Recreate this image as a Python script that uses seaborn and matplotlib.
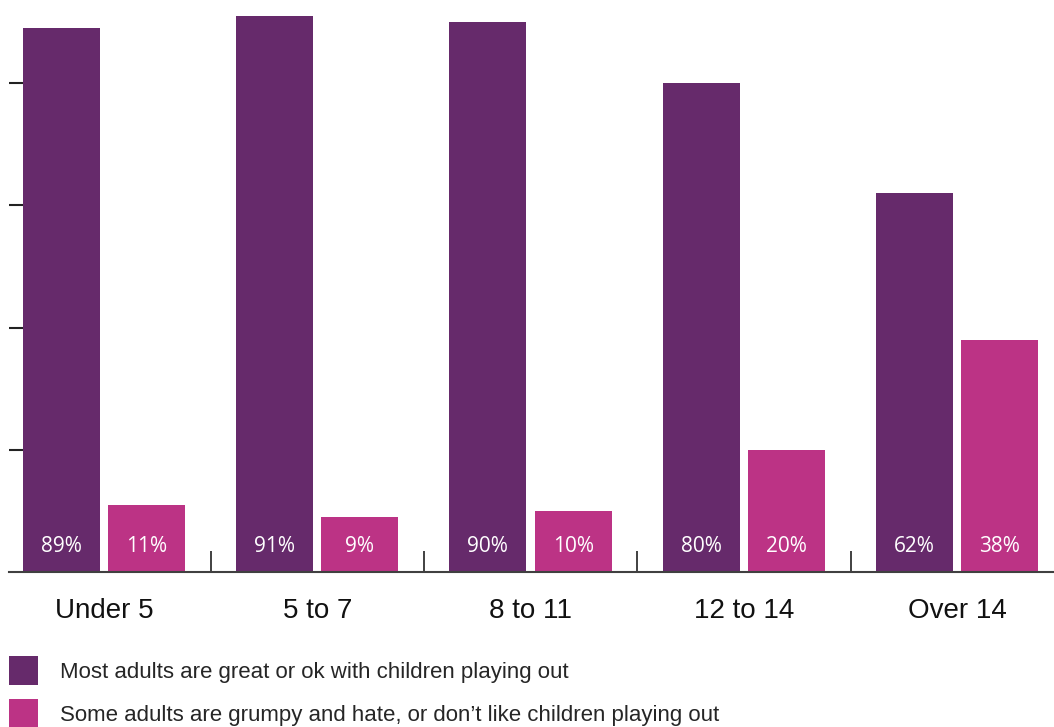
import matplotlib
matplotlib.use("Agg")
import matplotlib.pyplot as plt
import seaborn as sns
import pandas as pd

categories = ["Under 5", "5 to 7", "8 to 11", "12 to 14", "Over 14"]
series_names = ["Most adults are great or ok with children playing out",
                "Some adults are grumpy and hate, or don\u2019t like children playing out"]
most_ok = [89, 91, 90, 80, 62]
grumpy = [11, 9, 10, 20, 38]
colors = ["#662a6b", "#bc3385"]

df = pd.DataFrame({
    "age": categories * 2,
    "pct": most_ok + grumpy,
    "series": [series_names[0]] * len(categories) + [series_names[1]] * len(categories),
})

sns.set_style("white")
plt.rcParams["font.family"] = ["Liberation Sans", "DejaVu Sans"]

W, H = 1054, 727
fig = plt.figure(figsize=(W / 100, H / 100), dpi=100)
ax = fig.add_axes([9 / W, 155 / H, (W - 9) / W, 572 / H])

sns.barplot(data=df, x="age", y="pct", hue="series", order=categories,
            hue_order=series_names, palette=colors, width=0.8, gap=0.1,
            saturation=1, ax=ax, legend=True, linewidth=0, edgecolor="none")

ax.set_xlim(-0.445, 4.454)
ax.set_ylim(0, 93.6)

for name in ["top", "right", "left"]:
    ax.spines[name].set_visible(False)
ax.spines["bottom"].set_color("#404040")
ax.spines["bottom"].set_linewidth(1.5)

ax.set_yticks([20, 40, 60, 80])
ax.set_yticklabels([])
ax.tick_params(axis="y", direction="in", length=14, width=1.5, color="#222222", left=True)
ax.set_xticks(range(len(categories)))
ax.set_xticklabels(categories, fontsize=20, color="#111111")
ax.tick_params(axis="x", length=0, pad=19)
ax.set_xticks([0.5, 1.5, 2.5, 3.5], minor=True)
ax.tick_params(axis="x", which="minor", direction="in", length=15, width=1.3,
               color="#333333", bottom=True)
ax.set_xlabel("")
ax.set_ylabel("")
ax.grid(False)

for container, vals in zip(ax.containers, [most_ok, grumpy]):
    for bar, v in zip(container, vals):
        ax.text(bar.get_x() + bar.get_width() / 2, 4.2, f"{v}%",
                ha="center", va="center", color="white", fontsize=15,
                family=["Open Sans", "DejaVu Sans"])

handles, labels = ax.get_legend_handles_labels()
ax.legend(handles, labels, loc="upper left",
          bbox_to_anchor=(9 / W, 1 - 656 / H), bbox_transform=fig.transFigure,
          frameon=False, borderpad=0, borderaxespad=0,
          fontsize=16, handlelength=1.3, handleheight=1.65,
          handletextpad=1.0, labelspacing=0.6)

fig.savefig("out.png", dpi=100)
